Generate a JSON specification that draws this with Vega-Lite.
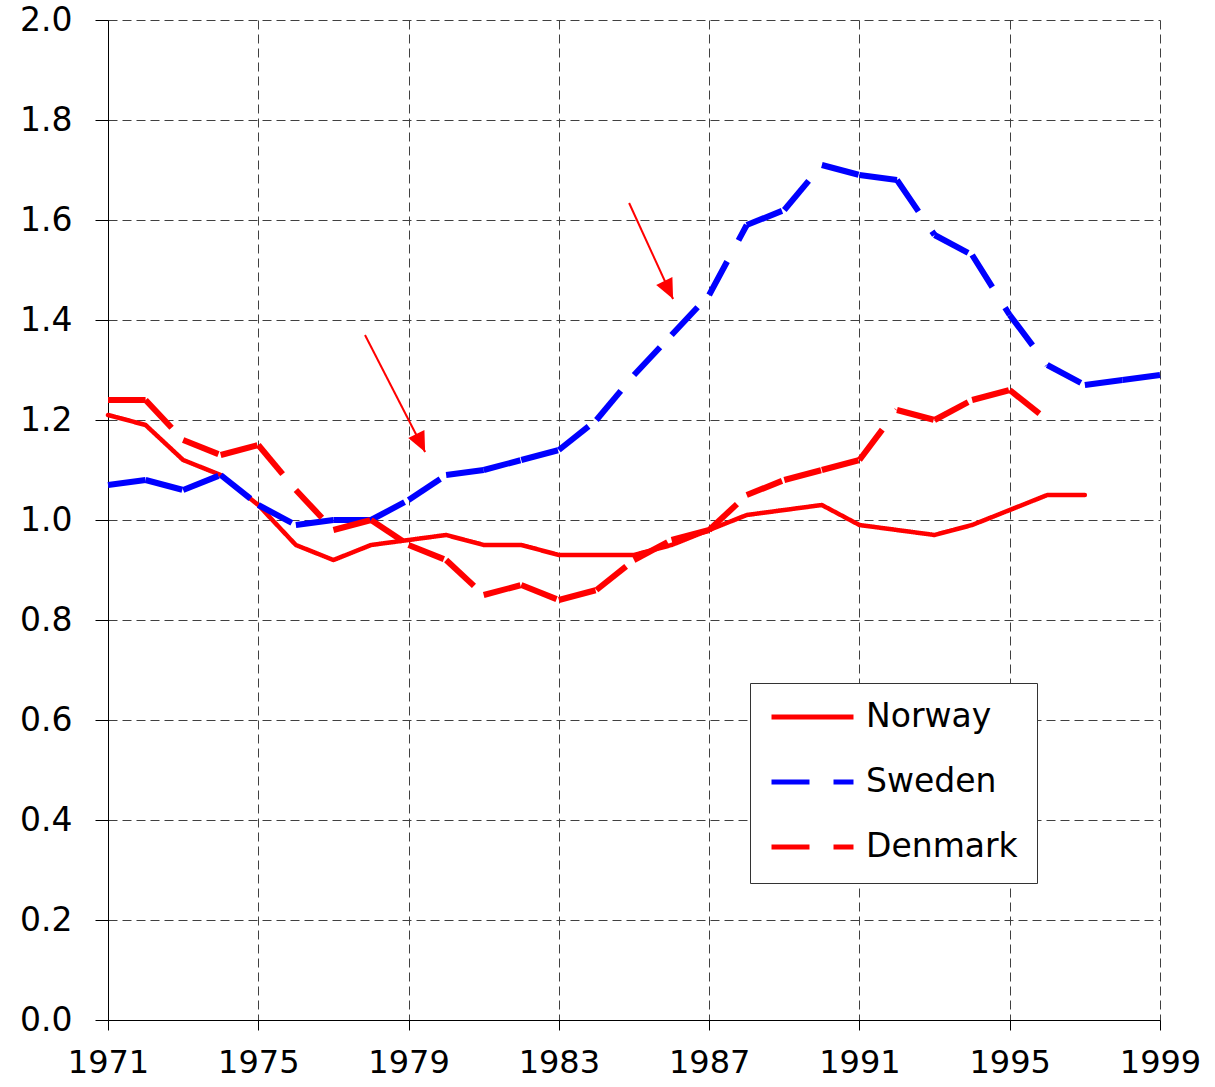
{
  "$schema": "https://vega.github.io/schema/vega-lite/v6.json",
  "width": 1052,
  "height": 1000,
  "autosize": {"type": "none"},
  "padding": {"left": 108, "top": 20, "right": 55, "bottom": 67},
  "background": "white",
  "datasets": {
    "series": [
      {"country": "Norway", "year": 1971, "value": 1.21},
      {"country": "Norway", "year": 1972, "value": 1.19},
      {"country": "Norway", "year": 1973, "value": 1.12},
      {"country": "Norway", "year": 1974, "value": 1.09},
      {"country": "Norway", "year": 1975, "value": 1.03},
      {"country": "Norway", "year": 1976, "value": 0.95},
      {"country": "Norway", "year": 1977, "value": 0.92},
      {"country": "Norway", "year": 1978, "value": 0.95},
      {"country": "Norway", "year": 1979, "value": 0.96},
      {"country": "Norway", "year": 1980, "value": 0.97},
      {"country": "Norway", "year": 1981, "value": 0.95},
      {"country": "Norway", "year": 1982, "value": 0.95},
      {"country": "Norway", "year": 1983, "value": 0.93},
      {"country": "Norway", "year": 1984, "value": 0.93},
      {"country": "Norway", "year": 1985, "value": 0.93},
      {"country": "Norway", "year": 1986, "value": 0.95},
      {"country": "Norway", "year": 1987, "value": 0.98},
      {"country": "Norway", "year": 1988, "value": 1.01},
      {"country": "Norway", "year": 1989, "value": 1.02},
      {"country": "Norway", "year": 1990, "value": 1.03},
      {"country": "Norway", "year": 1991, "value": 0.99},
      {"country": "Norway", "year": 1992, "value": 0.98},
      {"country": "Norway", "year": 1993, "value": 0.97},
      {"country": "Norway", "year": 1994, "value": 0.99},
      {"country": "Norway", "year": 1995, "value": 1.02},
      {"country": "Norway", "year": 1996, "value": 1.05},
      {"country": "Norway", "year": 1997, "value": 1.05},
      {"country": "Sweden", "year": 1971, "value": 1.07},
      {"country": "Sweden", "year": 1972, "value": 1.08},
      {"country": "Sweden", "year": 1973, "value": 1.06},
      {"country": "Sweden", "year": 1974, "value": 1.09},
      {"country": "Sweden", "year": 1975, "value": 1.03},
      {"country": "Sweden", "year": 1976, "value": 0.99},
      {"country": "Sweden", "year": 1977, "value": 1.0},
      {"country": "Sweden", "year": 1978, "value": 1.0},
      {"country": "Sweden", "year": 1979, "value": 1.04},
      {"country": "Sweden", "year": 1980, "value": 1.09},
      {"country": "Sweden", "year": 1981, "value": 1.1},
      {"country": "Sweden", "year": 1982, "value": 1.12},
      {"country": "Sweden", "year": 1983, "value": 1.14},
      {"country": "Sweden", "year": 1984, "value": 1.2},
      {"country": "Sweden", "year": 1985, "value": 1.29},
      {"country": "Sweden", "year": 1986, "value": 1.37},
      {"country": "Sweden", "year": 1987, "value": 1.45},
      {"country": "Sweden", "year": 1988, "value": 1.59},
      {"country": "Sweden", "year": 1989, "value": 1.62},
      {"country": "Sweden", "year": 1990, "value": 1.71},
      {"country": "Sweden", "year": 1991, "value": 1.69},
      {"country": "Sweden", "year": 1992, "value": 1.68},
      {"country": "Sweden", "year": 1993, "value": 1.57},
      {"country": "Sweden", "year": 1994, "value": 1.53},
      {"country": "Sweden", "year": 1995, "value": 1.41},
      {"country": "Sweden", "year": 1996, "value": 1.31},
      {"country": "Sweden", "year": 1997, "value": 1.27},
      {"country": "Sweden", "year": 1998, "value": 1.28},
      {"country": "Sweden", "year": 1999, "value": 1.29},
      {"country": "Denmark", "year": 1971, "value": 1.24},
      {"country": "Denmark", "year": 1972, "value": 1.24},
      {"country": "Denmark", "year": 1973, "value": 1.16},
      {"country": "Denmark", "year": 1974, "value": 1.13},
      {"country": "Denmark", "year": 1975, "value": 1.15},
      {"country": "Denmark", "year": 1976, "value": 1.06},
      {"country": "Denmark", "year": 1977, "value": 0.98},
      {"country": "Denmark", "year": 1978, "value": 1.0},
      {"country": "Denmark", "year": 1979, "value": 0.95},
      {"country": "Denmark", "year": 1980, "value": 0.92},
      {"country": "Denmark", "year": 1981, "value": 0.85},
      {"country": "Denmark", "year": 1982, "value": 0.87},
      {"country": "Denmark", "year": 1983, "value": 0.84},
      {"country": "Denmark", "year": 1984, "value": 0.86},
      {"country": "Denmark", "year": 1985, "value": 0.92},
      {"country": "Denmark", "year": 1986, "value": 0.96},
      {"country": "Denmark", "year": 1987, "value": 0.98},
      {"country": "Denmark", "year": 1988, "value": 1.05},
      {"country": "Denmark", "year": 1989, "value": 1.08},
      {"country": "Denmark", "year": 1990, "value": 1.1},
      {"country": "Denmark", "year": 1991, "value": 1.12},
      {"country": "Denmark", "year": 1992, "value": 1.22},
      {"country": "Denmark", "year": 1993, "value": 1.2},
      {"country": "Denmark", "year": 1994, "value": 1.24},
      {"country": "Denmark", "year": 1995, "value": 1.26},
      {"country": "Denmark", "year": 1996, "value": 1.2}
    ],
    "arrows": [
      {"from_year": 1977.84, "from_value": 1.37, "to_year": 1979.44, "to_value": 1.136},
      {"from_year": 1984.87, "from_value": 1.634, "to_year": 1986.04, "to_value": 1.442}
    ]
  },
  "config": {
    "view": {"stroke": null},
    "font": "DejaVu Sans",
    "axis": {
      "domainColor": "black",
      "domainWidth": 1,
      "tickColor": "black",
      "tickWidth": 1,
      "gridColor": "#404040",
      "gridDash": [9, 5],
      "gridWidth": 1,
      "labelFont": "DejaVu Sans",
      "labelFontSize": 33,
      "labelColor": "black"
    }
  },
  "layer": [
    {
      "data": {"name": "series"},
      "transform": [{"filter": "datum.country == 'Norway'"}],
      "mark": {"type": "line", "strokeWidth": 4.5, "strokeJoin": "round", "strokeCap": "round"},
      "encoding": {
        "x": {
          "field": "year", "type": "quantitative",
          "scale": {"domain": [1971, 1999], "nice": false, "zero": false},
          "axis": {"values": [1971, 1975, 1979, 1983, 1987, 1991, 1995, 1999], "format": "d", "grid": true, "tickSize": 10, "labelPadding": 17, "labelFontSize": 32, "labelFlush": false, "labelOverlap": false, "title": null}
        },
        "y": {
          "field": "value", "type": "quantitative",
          "scale": {"domain": [0, 2], "nice": false},
          "axis": {"values": [0, 0.2, 0.4, 0.6, 0.8, 1.0, 1.2, 1.4, 1.6, 1.8, 2.0], "format": ".1f", "grid": true, "tickSize": 13, "labelPadding": 23, "labelFlush": false, "labelOverlap": false, "title": null}
        },
        "color": {
          "field": "country", "type": "nominal",
          "scale": {"domain": ["Norway", "Sweden", "Denmark"], "range": ["#ff0000", "#0000ff", "#ff0000"]},
          "legend": {"orient": "none", "legendX": 642, "legendY": 663, "title": null, "symbolType": "stroke", "symbolSize": 6724, "symbolStrokeWidth": 5, "labelFont": "DejaVu Sans", "labelFontSize": 33, "labelColor": "black", "labelOffset": 10, "padding": 19, "rowPadding": 32, "clipHeight": 30, "strokeColor": "#333333", "fillColor": "white"}
        },
        "strokeDash": {
          "field": "country", "type": "nominal",
          "scale": {"domain": ["Norway", "Sweden", "Denmark"], "range": [[1, 0], [38, 24], [38, 24]]},
          "legend": {"orient": "none", "legendX": 642, "legendY": 663, "title": null, "symbolType": "stroke", "symbolSize": 6724, "symbolStrokeWidth": 5, "labelFont": "DejaVu Sans", "labelFontSize": 33, "labelColor": "black", "labelOffset": 10, "padding": 19, "rowPadding": 32, "clipHeight": 30, "strokeColor": "#333333", "fillColor": "white"}
        }
      }
    },
    {
      "data": {"name": "series"},
      "transform": [
        {"filter": "datum.country != 'Norway'"},
        {"window": [{"op": "lead", "field": "year", "as": "next_year"}, {"op": "lead", "field": "value", "as": "next_value"}], "groupby": ["country"], "sort": [{"field": "year", "order": "ascending"}]},
        {"filter": "datum.next_year != null"}
      ],
      "mark": {"type": "rule", "strokeWidth": 6, "strokeCap": "butt"},
      "encoding": {
        "x": {"field": "year", "type": "quantitative", "title": null},
        "y": {"field": "value", "type": "quantitative", "title": null},
        "x2": {"field": "next_year"},
        "y2": {"field": "next_value"},
        "color": {"field": "country", "type": "nominal"},
        "strokeDash": {"field": "country", "type": "nominal"}
      }
    },
    {
      "data": {"name": "arrows"},
      "mark": {"type": "rule", "color": "#ff0000", "strokeWidth": 2},
      "encoding": {
        "x": {"field": "from_year", "type": "quantitative", "title": null},
        "y": {"field": "from_value", "type": "quantitative", "title": null},
        "x2": {"field": "to_year"},
        "y2": {"field": "to_value"}
      }
    },
    {
      "data": {"name": "arrows"},
      "mark": {"type": "point", "shape": "M0,0 L-0.45,1 L0.45,1 Z", "filled": true, "color": "#ff0000", "opacity": 1, "size": 1600, "angle": 154, "strokeWidth": 0},
      "encoding": {
        "x": {"field": "to_year", "type": "quantitative", "title": null},
        "y": {"field": "to_value", "type": "quantitative", "title": null}
      }
    }
  ]
}
